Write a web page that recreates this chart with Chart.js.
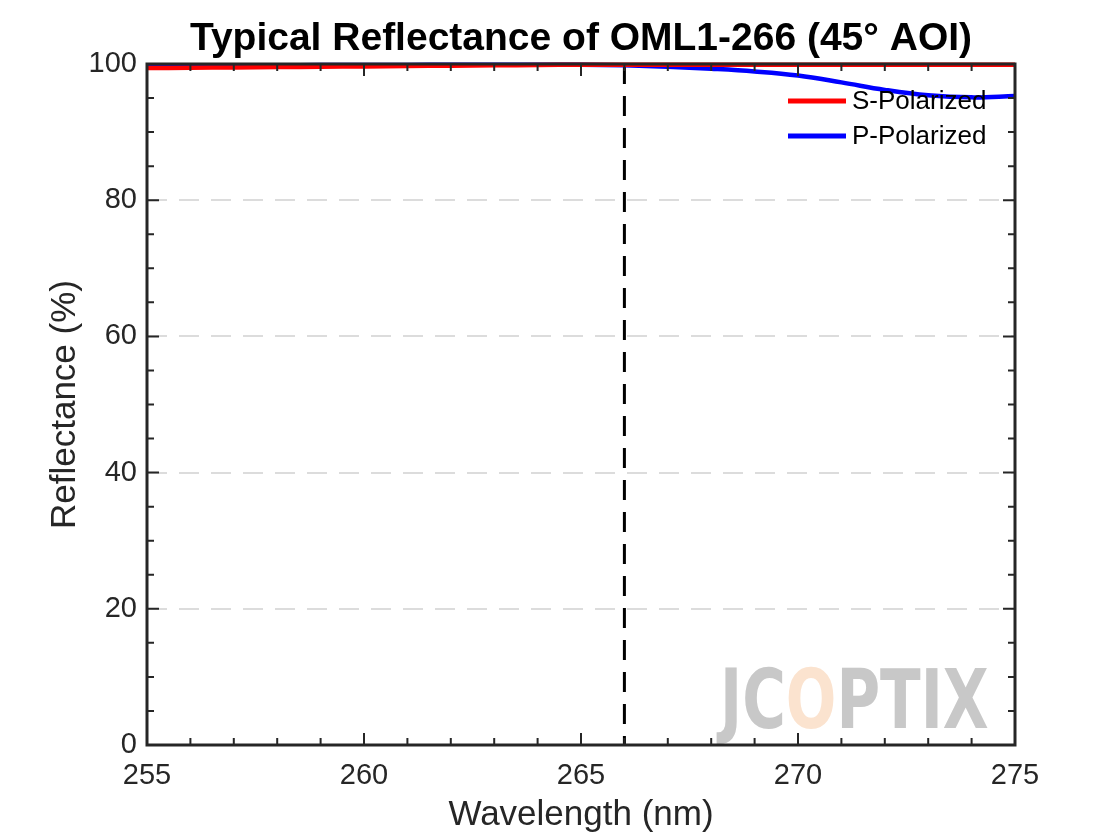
<!DOCTYPE html>
<html><head><meta charset="utf-8">
<script src="https://cdn.jsdelivr.net/npm/chart.js@4.4.0/dist/chart.umd.min.js"></script>
<style>html,body{margin:0;background:#fff}#wrap{width:1120px;height:840px}</style>
</head><body><div id="wrap"><canvas id="c"></canvas></div>
<script>
const wavelengths = [255, 256, 257, 258, 259, 260, 261, 262, 263, 264, 265, 266, 267, 268, 269, 270, 271, 272, 273, 274, 275];
const sPolarized = [99.4, 99.45, 99.5, 99.55, 99.6, 99.65, 99.7, 99.75, 99.8, 99.85, 99.9, 99.9, 99.9, 99.9, 99.9, 99.9, 99.9, 99.9, 99.9, 99.9, 99.9];
const pPolarized = [99.8, 99.8, 99.8, 99.8, 99.85, 99.85, 99.85, 99.9, 99.9, 99.9, 99.9, 99.8, 99.6, 99.3, 98.9, 98.3, 97.3, 96.2, 95.4, 95.1, 95.3];
const designWavelength = 266;
const xTicks = [255, 260, 265, 270, 275];
const yTicks = [0, 20, 40, 60, 80, 100];

const font = 'Liberation Sans, Arial, sans-serif';

const decor = {
  id: 'decor',
  beforeDatasetsDraw(chart) {
    const {ctx, chartArea: a, scales: {x, y}} = chart;
    ctx.save();
    // watermark
    ctx.font = 'bold 96px "DejaVu Sans"';
    const letters = ['J','C','O','P','T','I','X'];
    ctx.save();
    ctx.translate(720, 728);
    ctx.scale(0.62, 0.86);
    let px = 0;
    letters.forEach(l => {
      ctx.fillStyle = l === 'O' ? '#fbe3cf' : '#c8c8c8';
      ctx.fillText(l, px, 0);
      px += ctx.measureText(l).width;
    });
    ctx.restore();
    // dashed design line
    ctx.strokeStyle = '#000';
    ctx.lineWidth = 3;
    ctx.setLineDash([20, 12]);
    const dx = x.getPixelForValue(designWavelength);
    ctx.beginPath(); ctx.moveTo(dx, a.top); ctx.lineTo(dx, a.bottom); ctx.stroke();
    ctx.restore();
  },
  afterDatasetsDraw(chart) {
    const {ctx, chartArea: a, scales: {x, y}} = chart;
    ctx.save();
    ctx.strokeStyle = '#262626';
    ctx.lineWidth = 2;
    for (let v = 255; v <= 275; v++) {
      const px = x.getPixelForValue(v);
      const len = v % 5 === 0 ? 12 : 7;
      ctx.beginPath();
      ctx.moveTo(px, a.bottom); ctx.lineTo(px, a.bottom - len);
      ctx.moveTo(px, a.top); ctx.lineTo(px, a.top + len);
      ctx.stroke();
    }
    for (let v = 0; v <= 100; v += 5) {
      const py = y.getPixelForValue(v);
      const len = v % 20 === 0 ? 12 : 7;
      ctx.beginPath();
      ctx.moveTo(a.left, py); ctx.lineTo(a.left + len, py);
      ctx.moveTo(a.right, py); ctx.lineTo(a.right - len, py);
      ctx.stroke();
    }
    ctx.lineWidth = 3;
    ctx.strokeRect(a.left, a.top, a.right - a.left, a.bottom - a.top);
    // legend
    const items = [['S-Polarized', '#ff0000', 101], ['P-Polarized', '#0000ff', 136]];
    ctx.font = '26px ' + font;
    ctx.textBaseline = 'middle';
    items.forEach(([t, c, ly]) => {
      ctx.strokeStyle = c; ctx.lineWidth = 5;
      ctx.beginPath(); ctx.moveTo(788, ly); ctx.lineTo(846, ly); ctx.stroke();
      ctx.fillStyle = '#000';
      ctx.fillText(t, 852, ly + 1);
    });
    // title
    ctx.font = 'bold 39px ' + font;
    ctx.textAlign = 'center';
    ctx.textBaseline = 'alphabetic';
    ctx.fillText('Typical Reflectance of OML1-266 (45° AOI)', (a.left + a.right) / 2, 50);
    ctx.restore();
  }
};

new Chart(document.getElementById('c'), {
  type: 'line',
  data: {
    datasets: [
      {label: 'S-Polarized', data: wavelengths.map((w, i) => ({x: w, y: sPolarized[i]})), borderColor: '#ff0000', borderWidth: 4.5, pointRadius: 0, tension: 0.4, clip: false},
      {label: 'P-Polarized', data: wavelengths.map((w, i) => ({x: w, y: pPolarized[i]})), borderColor: '#0000ff', borderWidth: 4.5, pointRadius: 0, tension: 0.4, clip: false}
    ]
  },
  options: {
    responsive: true, maintainAspectRatio: false, animation: false,
    layout: {padding: {top: 64, right: 105, left: 40, bottom: 0}},
    plugins: {legend: {display: false}, tooltip: {enabled: false}},
    scales: {
      x: {
        type: 'linear', min: 255, max: 275,
        afterBuildTicks: s => { s.ticks = xTicks.map(v => ({value: v})); },
        afterFit: s => { s.height = 95; },
        grid: {display: false},
        border: {display: false},
        ticks: {color: '#262626', font: {family: font, size: 29}, padding: 6, maxRotation: 0},
        title: {display: true, text: 'Wavelength (nm)', color: '#262626', font: {family: font, size: 35}, padding: {top: 0}}
      },
      y: {
        min: 0, max: 100,
        afterBuildTicks: s => { s.ticks = yTicks.map(v => ({value: v})); },
        afterFit: s => { s.width = 107; },
        grid: {
          drawTicks: false, lineWidth: 2,
          color: c => (c.tick.value > 0 && c.tick.value < 100) ? '#dcdcdc' : 'rgba(0,0,0,0)'
        },
        border: {display: false, dash: [20, 12]},
        ticks: {color: '#262626', font: {family: font, size: 29}, padding: 10},
        title: {display: true, text: 'Reflectance (%)', color: '#262626', font: {family: font, size: 35}, padding: {bottom: 0}}
      }
    }
  },
  plugins: [decor]
});
</script></body></html>
